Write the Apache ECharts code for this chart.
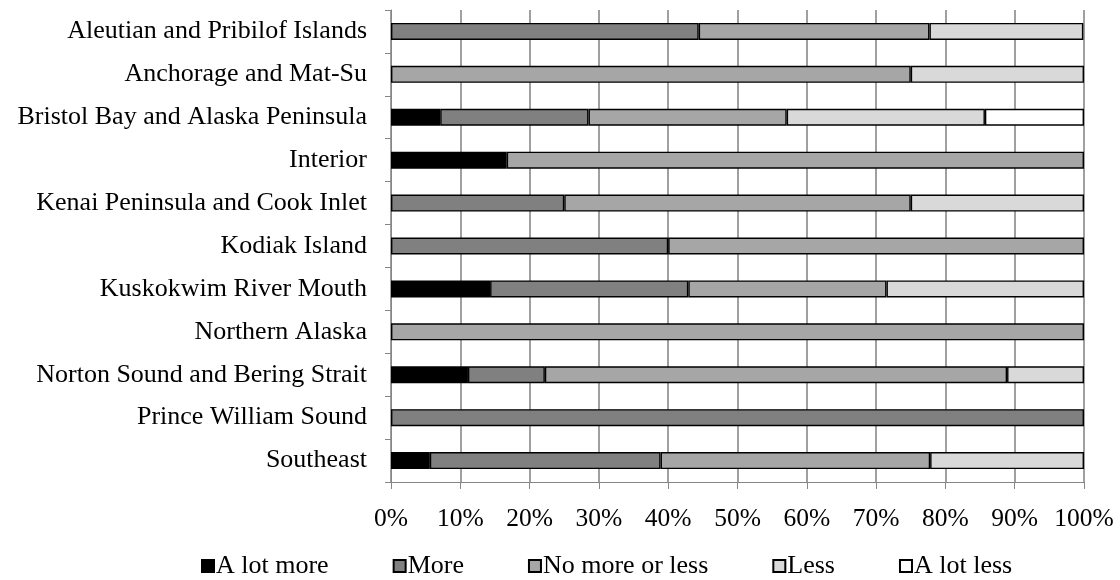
<!DOCTYPE html>
<html>
<head>
<meta charset="utf-8">
<script src="https://cdn.jsdelivr.net/npm/echarts@6/dist/echarts.min.js"></script>
<style>
  html, body { margin: 0; padding: 0; background: #ffffff; }
  #chart { width: 1120px; height: 580px; }
</style>
</head>
<body>
<div id="chart"></div>
<script>
// regions, top to bottom
var regions = [
  "Aleutian and Pribilof Islands",
  "Anchorage and Mat-Su",
  "Bristol Bay and Alaska Peninsula",
  "Interior",
  "Kenai Peninsula and Cook Inlet",
  "Kodiak Island",
  "Kuskokwim River Mouth",
  "Northern Alaska",
  "Norton Sound and Bering Strait",
  "Prince William Sound",
  "Southeast"
];

var legendNames = ["A lot more", "More", "No more or less", "Less", "A lot less"];

// percent of answers, one value per region
var aLotMore  = [0,    0,  7.1, 16.7,  0,  0, 14.3,   0, 11.1,   0,  5.6];
var more      = [44.4, 0, 21.4,  0,   25, 40, 28.6,   0, 11.1, 100, 33.3];
var noMore    = [33.3, 75, 28.6, 83.3, 50, 60, 28.6, 100, 66.7,   0, 38.9];
var less      = [22.2, 25, 28.6,  0,   25,  0, 28.5,   0, 11.1,   0, 22.2];
var aLotLess  = [0,    0, 14.3,  0,    0,  0,  0,     0,  0,     0,  0];

var colors = ["#000000", "#808080", "#a6a6a6", "#d9d9d9", "#ffffff"];
var allData = [aLotMore, more, noMore, less, aLotLess];

var font = '"Liberation Serif", "Times New Roman", serif';

var series = [];
for (var i = 0; i < legendNames.length; i++) {
  series.push({
    name: legendNames[i],
    type: "bar",
    stack: "total",
    barWidth: 17,
    data: allData[i].map(function (v) { return v === 0 ? "-" : v; }),
    itemStyle: {
      color: colors[i],
      borderColor: "#000000",
      borderWidth: 1.4
    },
    emphasis: { disabled: true }
  });
}

var option = {
  backgroundColor: "#ffffff",
  animation: false,
  textStyle: { fontFamily: font, color: "#000000" },
  grid: { left: 391, right: 36, top: 10, bottom: 98, containLabel: false },
  legend: {
    data: legendNames,
    left: 196,
    top: 548,
    itemWidth: 12,
    itemHeight: 12,
    itemGap: 64,
    icon: "rect",
    textStyle: { fontFamily: font, fontSize: 26, color: "#000000", padding: [0, 0, 0, -3] }
  },
  xAxis: {
    type: "value",
    min: 0,
    max: 100,
    interval: 10,
    axisLine: { show: true, lineStyle: { color: "#868686", width: 1 } },
    axisTick: { show: true, length: 7, lineStyle: { color: "#868686" } },
    splitLine: { show: true, lineStyle: { color: "rgb(128,128,128)", width: 1.5, type: "solid", opacity: 1 } },
    axisLabel: {
      formatter: "{value}%",
      fontFamily: font,
      fontSize: 25.5,
      color: "#000000",
      margin: 24
    }
  },
  yAxis: {
    type: "category",
    data: regions,
    inverse: true,
    axisLine: { show: true, lineStyle: { color: "#868686", width: 1 } },
    axisTick: { show: true, length: 6, lineStyle: { color: "#868686" } },
    splitLine: { show: false },
    axisLabel: {
      fontFamily: font,
      fontSize: 26,
      color: "#000000",
      margin: 24
    }
  },
  series: series
};

var myChart = echarts.init(document.getElementById("chart"));
myChart.setOption(option);
</script>
</body>
</html>
